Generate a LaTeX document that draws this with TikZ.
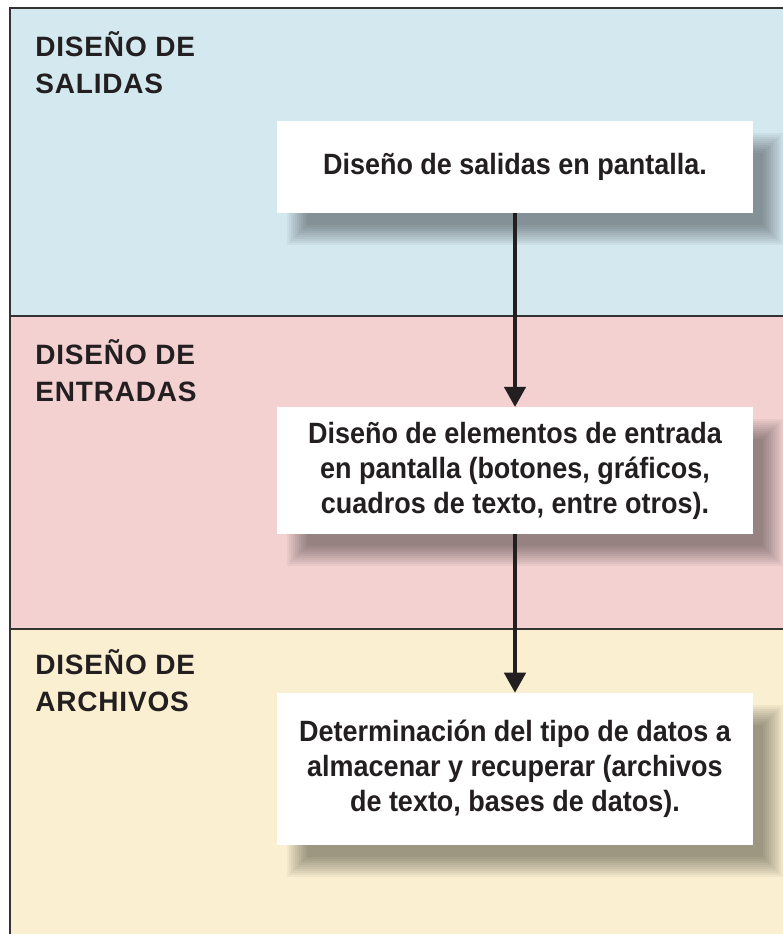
\documentclass[tikz,border=0pt]{standalone}
\usepackage{fontspec}
\setmainfont{Liberation Sans}
\newfontfamily\boxfont[FakeStretch=0.92]{Liberation Sans}
\newfontfamily\lanefont[LetterSpace=3]{Liberation Sans}
\usetikzlibrary{arrows.meta,positioning}
\definecolor{salidasbg}{HTML}{D3E8EF}
\definecolor{entradasbg}{HTML}{F3D1D1}
\definecolor{archivosbg}{HTML}{FAEFD0}
\definecolor{framegray}{HTML}{333333}
\definecolor{inktext}{HTML}{231F20}
\pgfdeclarelayer{lanes}
\pgfdeclarelayer{shade}
\pgfsetlayers{lanes,shade,main}

\begin{document}
\begin{tikzpicture}[x=0.75pt,y=-0.75pt,
  lane/.style={draw=framegray, line width=1.2pt},
  lanetitle/.style={anchor=north west, align=left, inner sep=0pt,
    font=\lanefont\bfseries\fontsize{21}{27.75}\selectfont, text=inktext},
  stepbox/.style={fill=white, inner sep=0pt, minimum width=357pt, align=center,
    font=\boxfont\bfseries\fontsize{22}{26.25}\selectfont, text=inktext},
  shadelayer/.style={fill=black, opacity=0.04},
  flow/.style={-{Triangle[width=16pt,length=15pt]}, line width=2.6pt, draw=inktext}]
  \def\boxx{515}

  % Fixed bounding box (frame runs off the right and bottom edges)
  \path[use as bounding box] (0,0) rectangle (782,934);
  \clip (0,0) rectangle (782,934);

  % ---- Lanes ----
  \begin{pgfonlayer}{lanes}
    \draw[lane, fill=salidasbg] (10,8) rectangle (800,316);
    \draw[lane, fill=entradasbg] (10,316) rectangle (800,629);
    \draw[lane, fill=archivosbg] (10,629) rectangle (800,960);
  \end{pgfonlayer}

  % ---- Lane titles ----
  \node[lanetitle] (tsalidas) at (35,31) {DISEÑO DE\\SALIDAS};
  \node[lanetitle] (tentradas) at (35,339) {DISEÑO DE\\ENTRADAS};
  \node[lanetitle] (tarchivos) at (35,649) {DISEÑO DE\\ARCHIVOS};

  % ---- Steps ----
  \node[stepbox, minimum height=69pt] (salidas) at (\boxx,167)
    {Diseño de salidas en pantalla.};
  \node[stepbox, minimum height=95pt] (entradas) at (\boxx,470.5)
    {Diseño de elementos de entrada\\en pantalla (botones, gráficos,\\cuadros de texto, entre otros).};
  \node[stepbox, minimum height=114pt] (archivos) at (\boxx,769)
    {Determinación del tipo de datos a\\almacenar y recuperar (archivos\\de texto, bases de datos).};

  % ---- Soft shadows (stacked rectangles) ----
  \begin{pgfonlayer}{shade}
    \foreach \b in {salidas,entradas,archivos} {
      \foreach \k in {0,...,10} {
        \pgfmathsetmacro{\e}{10-2*\k}
        \fill[shadelayer] ([shift={(20-\e,22-\e)}]\b.north west)
          rectangle ([shift={(20+\e,22+\e)}]\b.south east);
      }
    }
  \end{pgfonlayer}

  % ---- Flow ----
  \draw[flow] (salidas) -- (entradas);
  \draw[flow] (entradas) -- (archivos);

\end{tikzpicture}
\end{document}
